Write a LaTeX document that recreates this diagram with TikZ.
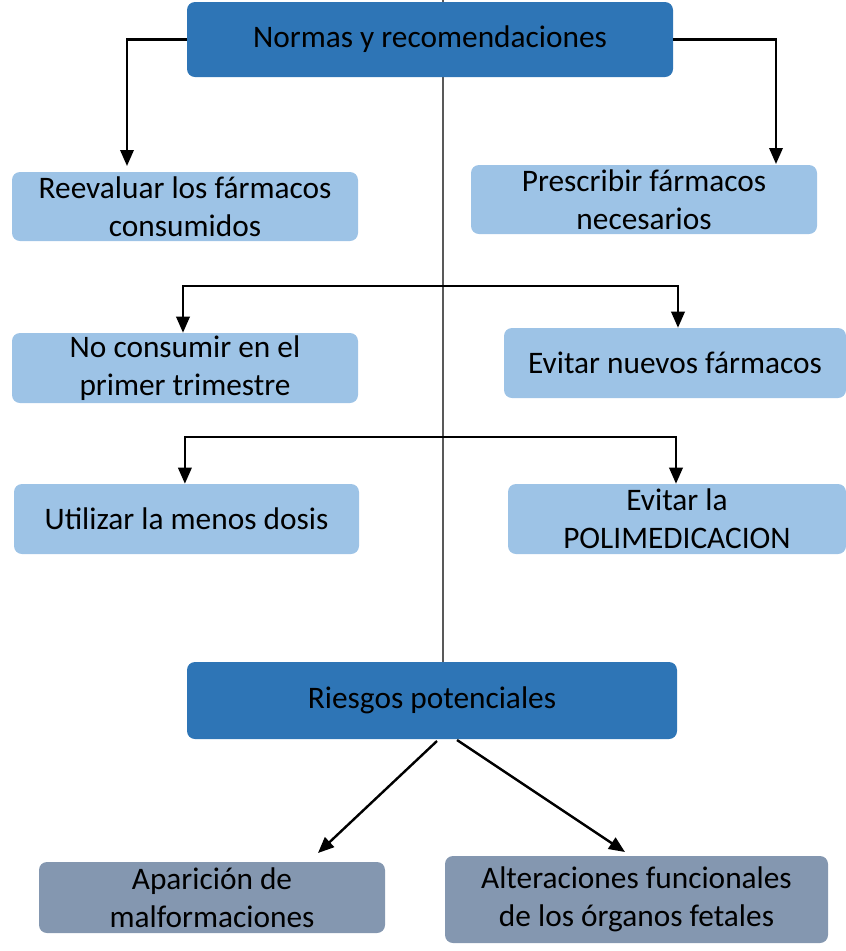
\documentclass[tikz,border=0pt]{standalone}
\usepackage{fontspec}
\setmainfont{Carlito}
\usepackage{xcolor}
\usetikzlibrary{arrows.meta}
\definecolor{azulosc}{HTML}{2E75B6}
\definecolor{azulcla}{HTML}{9DC3E6}
\definecolor{grisazul}{HTML}{8497B0}
\definecolor{ejegris}{HTML}{595959}

\tikzset{
	caja/.style 2 args={rounded corners=6pt, inner sep=0pt, align=center,
		minimum width=#1*0.75pt, minimum height=#2*0.75pt,
		font=\fontsize{23.5}{28.5}\selectfont},
	flecha/.style={line width=1.8pt, -{Triangle[length=12pt,width=10pt]}},
	eje/.style={color=ejegris, line width=0.8pt}
}

\begin{document}
\begin{tikzpicture}[x=0.75pt,y=-0.75pt]
		\useasboundingbox (0,0) rectangle (846,951);
		% linea central
		\coordinate (ejeA) at (443,0);
		\coordinate (ejeB) at (443,662);
		\draw [eje] (ejeA) -- (ejeB);
		%
		\node [caja={486}{75}, fill=azulosc] (normas) at (430,39.5) {Normas y recomendaciones};
		\node [caja={346}{69}, fill=azulcla] (reeval) at (185,206.5) {Reevaluar los fármacos\\consumidos};
		\node [caja={346}{69}, fill=azulcla] (prescr) at (644,199.5) {Prescribir fármacos\\necesarios};
		\node [caja={346}{70}, fill=azulcla] (nocons) at (185,368) {No consumir en el\\primer trimestre};
		\node [caja={342}{70}, fill=azulcla] (evnuev) at (675,363) {Evitar nuevos fármacos};
		\node [caja={345}{70}, fill=azulcla] (utiliz) at (186.5,519) {Utilizar la menos dosis};
		\node [caja={338}{70}, fill=azulcla] (evpoli) at (677,519) {Evitar la\\POLIMEDICACION};
		\node [caja={490}{77}, fill=azulosc] (riesgos) at (432,700.5) {Riesgos potenciales};
		\node [caja={346}{71}, fill=grisazul] (aparic) at (212,897.5) {Aparición de\\malformaciones};
		\node [caja={383}{87}, fill=grisazul] (altera) at (636.5,899.5) {Alteraciones funcionales\\de los órganos fetales};
		%
		\coordinate (pIzq) at (127,166);
		\coordinate (pDer) at (776,164);
		\draw [flecha] (normas.west) -| (pIzq);
		\draw [flecha] (normas.east) -| (pDer);
		%
		\coordinate (ramaA) at (443,286);
		\coordinate (ramaB) at (443,437);
		\draw [flecha] (ramaA) -| ([xshift=-1.5pt]nocons.north);
		\draw [flecha] (ramaA) -| ([xshift=2.25pt]evnuev.north);
		\draw [flecha] (ramaB) -| ([xshift=-1.2pt]utiliz.north);
		\draw [flecha] (ramaB) -| ([xshift=-0.75pt]evpoli.north);
		%
		\coordinate (rA) at (437,741);
		\coordinate (rB) at (457,740);
		\coordinate (fA) at (318,853);
		\coordinate (fB) at (625,852);
		\draw [flecha] (rA) -- (fA);
		\draw [flecha] (rB) -- (fB);
	\end{tikzpicture}
\end{document}
